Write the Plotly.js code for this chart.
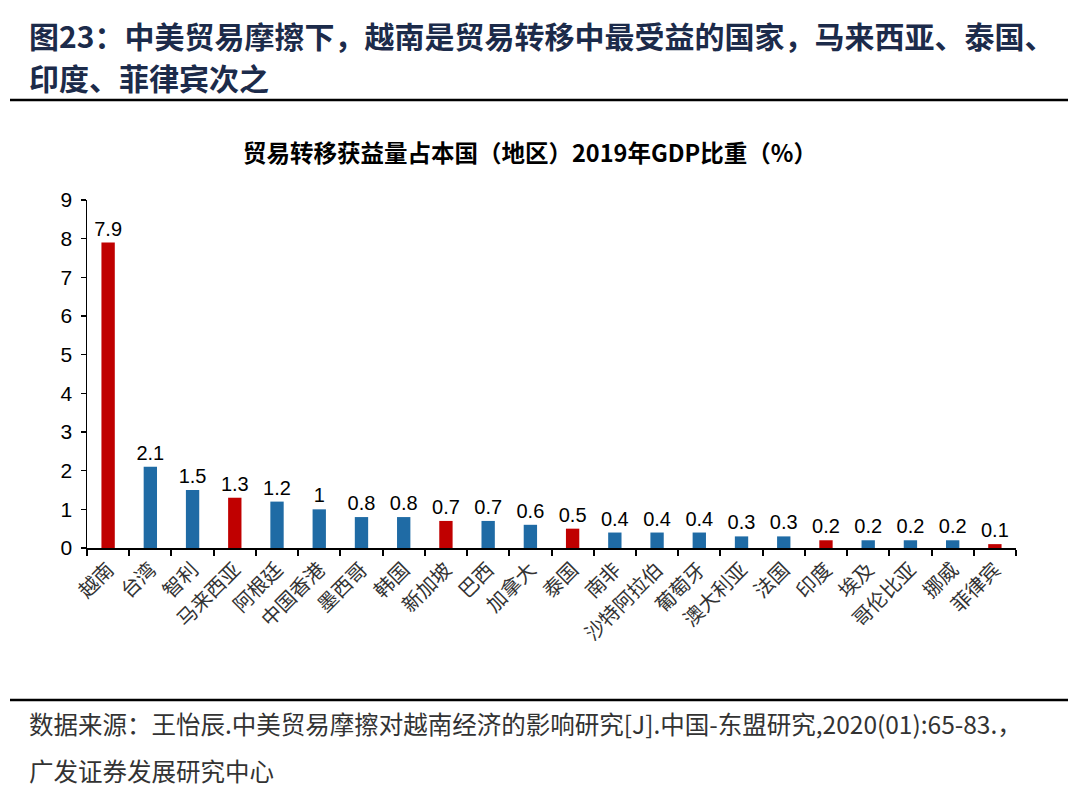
<!DOCTYPE html>
<html>
<head>
<meta charset="utf-8">
<script src="https://cdn.plot.ly/plotly-3.0.1.min.js"></script>
<style>html,body{margin:0;padding:0;background:#fff;}#chart{width:1080px;height:790px;}</style>
</head>
<body>
<div id="chart"></div>
<script>
const categories = ["越南","台湾","智利","马来西亚","阿根廷","中国香港","墨西哥","韩国","新加坡","巴西","加拿大","泰国","南非","沙特阿拉伯","葡萄牙","澳大利亚","法国","印度","埃及","哥伦比亚","挪威","菲律宾"];
const values = [7.9,2.1,1.5,1.3,1.2,1,0.8,0.8,0.7,0.7,0.6,0.5,0.4,0.4,0.4,0.3,0.3,0.2,0.2,0.2,0.2,0.1];
const highlighted = ["越南","马来西亚","新加坡","泰国","印度","菲律宾"];
const yTicks = [0,1,2,3,4,5,6,7,8,9];

const RED = "#C00000", BLUE = "#1F6BA5";
const colors = categories.map(c => highlighted.includes(c) ? RED : BLUE);

const CJK = '"Noto Sans CJK SC", "Liberation Sans", sans-serif';
const LAT = '"Liberation Sans", Arial, sans-serif';

const trace = {
  type: "bar",
  x: categories,
  y: values,
  marker: {color: colors},
  text: values.map(v => String(v)),
  textposition: "outside",
  constraintext: "none",
  textfont: {family: LAT, size: 20, color: "#000"},
  cliponaxis: false,
  hoverinfo: "x+y"
};

// pixel helpers: plot area x 87..1016, y 200..548
const px = x => (x - 87) / 929;
const py = y => (548 - y) / 348;

const layout = {
  width: 1080, height: 790,
  margin: {l: 87, r: 64, t: 200, b: 242},
  paper_bgcolor: "#fff", plot_bgcolor: "#fff",
  showlegend: false,
  bargap: 0.684,
  xaxis: {
    type: "category",
    showline: true, linecolor: "#000", linewidth: 2,
    ticks: "outside", tickson: "boundaries", ticklen: 6, tickcolor: "#000", tickwidth: 2,
    tickangle: -45,
    tickfont: {family: CJK, size: 20, color: "#333"},
    showgrid: false, zeroline: false,
    fixedrange: true
  },
  yaxis: {
    range: [0, 9],
    tickvals: yTicks,
    ticktext: yTicks.map(String),
    showline: true, linecolor: "#000", linewidth: 1.5,
    ticks: "outside", ticklen: 5, tickcolor: "#000", tickwidth: 1.5,
    ticklabelstandoff: 4,
    tickfont: {family: LAT, size: 21, color: "#000"},
    showgrid: false, zeroline: false,
    fixedrange: true
  },
  annotations: [
    {xref: "paper", yref: "paper", x: px(27), y: py(35), xanchor: "left", yanchor: "middle", showarrow: false,
     text: "<b>图23：中美贸易摩擦下，越南是贸易转移中最受益的国家，马来西亚、泰国、</b>",
     font: {family: CJK, size: 30, color: "#1C2B4A"}},
    {xref: "paper", yref: "paper", x: px(27), y: py(77), xanchor: "left", yanchor: "middle", showarrow: false,
     text: "<b>印度、菲律宾次之</b>",
     font: {family: CJK, size: 30, color: "#1C2B4A"}},
    {xref: "paper", yref: "paper", x: px(530), y: py(152), xanchor: "center", yanchor: "middle", showarrow: false,
     text: "<b>贸易转移获益量占本国（地区）2019年GDP比重（%）</b>",
     font: {family: CJK, size: 23.5, color: "#000"}},
    {xref: "paper", yref: "paper", x: px(27), y: py(723), xanchor: "left", yanchor: "middle", showarrow: false,
     text: "数据来源：王怡辰.中美贸易摩擦对越南经济的影响研究[J].中国-东盟研究,2020(01):65-83.，",
     font: {family: CJK, size: 24.5, color: "#333"}},
    {xref: "paper", yref: "paper", x: px(27), y: py(770), xanchor: "left", yanchor: "middle", showarrow: false,
     text: "广发证券发展研究中心",
     font: {family: CJK, size: 24.5, color: "#333"}}
  ],
  shapes: [
    {type: "line", xref: "paper", yref: "paper", x0: px(10), x1: px(1068), y0: py(100), y1: py(100),
     line: {color: "#000", width: 2.5}},
    {type: "line", xref: "paper", yref: "paper", x0: px(10), x1: px(1068), y0: py(700), y1: py(700),
     line: {color: "#000", width: 2.5}}
  ]
};

Plotly.newPlot("chart", [trace], layout, {displayModeBar: false, staticPlot: true});
</script>
</body>
</html>
